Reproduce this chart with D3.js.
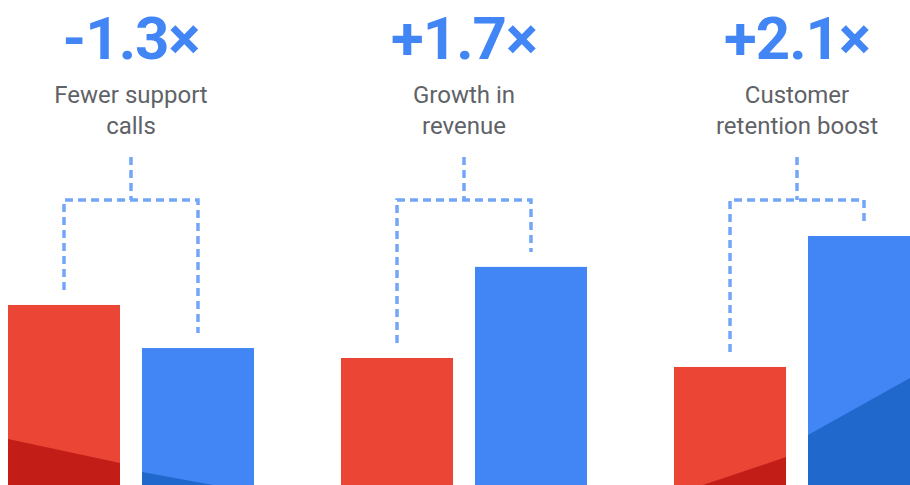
<!DOCTYPE html>
<html>
<head>
<meta charset="utf-8">
<script src="https://cdn.jsdelivr.net/npm/d3@7"></script>
<style>
  html, body { margin: 0; padding: 0; background: #fff; overflow: hidden; }
  svg { display: block; }
</style>
</head>
<body>
<svg id="chart" width="910" height="485"></svg>
<script>
// ---- data ----
const categories = ["support", "revenue", "retention"];
const headlines = ["-1.3×", "+1.7×", "+2.1×"];
const labelLine1 = ["Fewer support", "Growth in", "Customer"];
const labelLine2 = ["calls", "revenue", "retention boost"];
const series = ["before", "after"];
const beforeValues = [72.3, 51.0, 47.4];
const afterValues = [55.0, 87.6, 100];
// decorative darker wedge at bar base: value at left edge / right edge of bar
const beforeShadeLeft = [18.5, 0, -3.9];
const beforeShadeRight = [8.8, 0, 11.2];
const afterShadeLeft = [5.2, 0, 20.1];
const afterShadeRight = [-3.0, 0, 45.2];

// ---- layout ----
const W = 910, H = 485;
const svg = d3.select("#chart");
const colors = { before: "#EA4535", after: "#4285F4" };
const darkColors = { before: "#C21E17", after: "#2068CC" };
const dashColor = "#74A6F8";

const x0 = d3.scaleBand().domain(categories).range([8, 920]).paddingInner(0.2613).paddingOuter(0);
const x1 = d3.scaleBand().domain(series).range([0, x0.bandwidth()]).paddingInner(0.164).paddingOuter(0);
const y = d3.scaleLinear().domain([0, 100]).range([H, 236]);

const rows = categories.map((c, i) => ({
  cat: c, i,
  bars: [
    { s: "before", v: beforeValues[i], sl: beforeShadeLeft[i], sr: beforeShadeRight[i] },
    { s: "after", v: afterValues[i], sl: afterShadeLeft[i], sr: afterShadeRight[i] }
  ]
}));

const defs = svg.append("defs");

const g = svg.selectAll("g.grp").data(rows).join("g")
  .attr("class", "grp")
  .attr("transform", d => `translate(${x0(d.cat)},0)`);

// bars
g.each(function(d) {
  const gg = d3.select(this);
  d.bars.forEach(b => {
    const bx = x1(b.s), bw = x1.bandwidth();
    const id = `clip-${d.cat}-${b.s}`;
    defs.append("clipPath").attr("id", id)
      .append("rect")
      .attr("x", bx).attr("y", y(b.v)).attr("width", bw).attr("height", y(0) - y(b.v));
    gg.append("rect")
      .attr("x", bx).attr("y", y(b.v))
      .attr("width", bw).attr("height", y(0) - y(b.v))
      .attr("fill", colors[b.s]);
    if (b.sl !== 0 || b.sr !== 0) {
      gg.append("path")
        .attr("clip-path", `url(#${id})`)
        .attr("d", `M${bx},${y(b.sl)} L${bx + bw},${y(b.sr)} L${bx + bw},${y(0) + 20} L${bx},${y(0) + 20} Z`)
        .attr("fill", darkColors[b.s]);
    }
  });
});

// connectors
const hY = 200, stemTop = 157, gap = 15;
g.each(function(d) {
  const gg = d3.select(this);
  const cx = x0.bandwidth() / 2;
  const lx = x1("before") + x1.bandwidth() / 2;
  const rx = x1("after") + x1.bandwidth() / 2;
  const ly = y(d.bars[0].v) - gap;
  const ry = y(d.bars[1].v) - gap;
  const common = { stroke: dashColor, "stroke-width": 3.5, fill: "none", "stroke-dasharray": "8,5" };
  const p1 = gg.append("path").attr("d", `M${cx},${stemTop} V${hY}`);
  const p2 = gg.append("path").attr("d", `M${lx},${ly} V${hY} H${rx} V${ry}`);
  [p1, p2].forEach(p => Object.entries(common).forEach(([k, v]) => p.attr(k, v)));
});

// headline numbers
g.append("text")
  .attr("x", x0.bandwidth() / 2)
  .attr("y", 59)
  .attr("text-anchor", "middle")
  .attr("font-family", "Roboto, 'Open Sans', sans-serif")
  .attr("font-weight", 700)
  .attr("font-size", 60)
  .attr("letter-spacing", -1)
  .attr("fill", "#4285F4")
  .text(d => headlines[d.i]);

// labels
const lab = g.append("text")
  .attr("text-anchor", "middle")
  .attr("font-family", "Roboto, 'Open Sans', sans-serif")
  .attr("font-size", 24)
  .attr("fill", "#5F6368");
lab.append("tspan").attr("x", x0.bandwidth() / 2).attr("y", 103).text(d => labelLine1[d.i]);
lab.append("tspan").attr("x", x0.bandwidth() / 2).attr("y", 134).text(d => labelLine2[d.i]);
</script>
</body>
</html>
